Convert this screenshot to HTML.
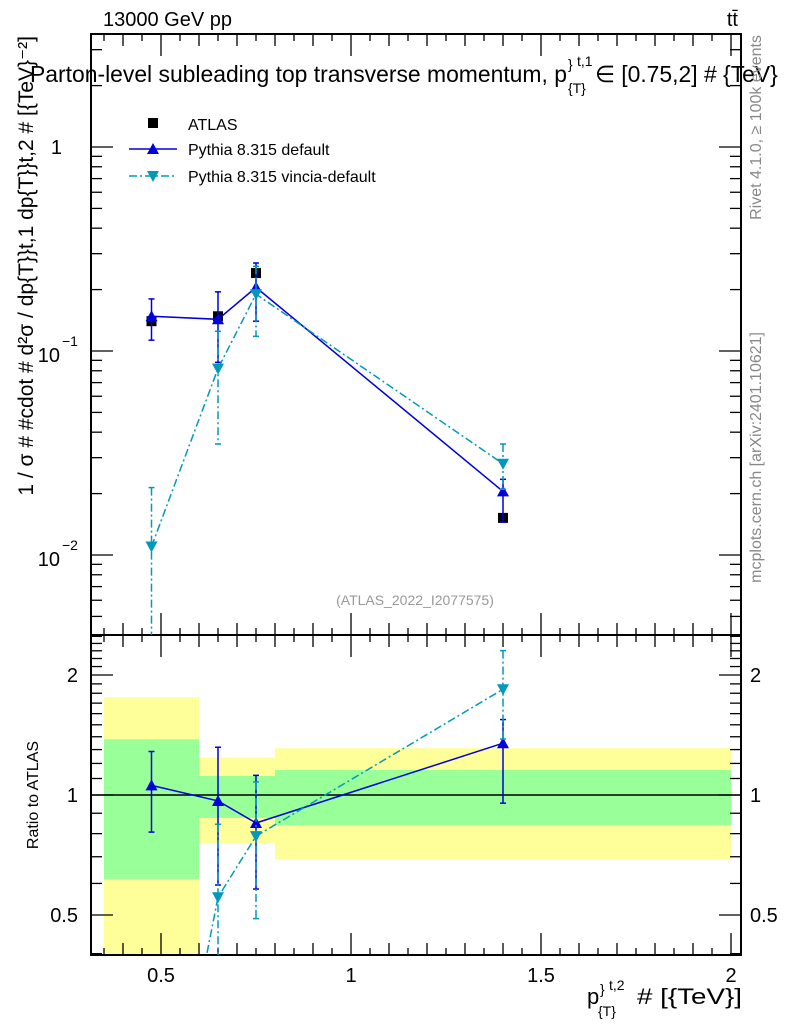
<!DOCTYPE html>
<html><head><meta charset="utf-8"><style>
html,body{margin:0;background:#fff;overflow:hidden;width:786px;height:1024px;}
svg{display:block;font-family:"Liberation Sans",sans-serif;}
</style></head><body>
<svg id="c" width="786" height="1024" viewBox="0 0 786 1024"></svg>
<script>
const binEdges=[0.35,0.6,0.7,0.8,2.0];
const greenLo=[0.616,0.876,0.876,0.841];
const greenHi=[1.38,1.116,1.116,1.155];
const yellowLo=[0.30,0.758,0.758,0.691];
const yellowHi=[1.76,1.24,1.24,1.31];
const xVals=[0.475,0.65,0.75,1.4];
const atlasVals=[0.140,0.148,0.241,0.0152];
const pyVals=[0.148,0.143,0.205,0.0205];
const pyUp=[0.18,0.195,0.27,0.0235];
const pyDn=[0.113,0.088,0.14,0.0145];
const viVals=[0.011,0.082,0.19,0.028];
const viUp=[0.0214,0.125,0.26,0.035];
const viDn=[0.001,0.035,0.118,0.021];
const xTickLabels=["0.5","1","1.5","2"];

const NS="http://www.w3.org/2000/svg";
const svg=document.getElementById('c');
const L=91,R=741,T=34,M=635,B=955;
const X=v=>-29+380*v;
const Y=v=>147-204*Math.log10(v);
const YR=v=>795-120*Math.log2(v);
function mk(tag,at,parent){const e=document.createElementNS(NS,tag);for(const k in at)e.setAttribute(k,at[k]);(parent||svg).appendChild(e);return e;}
function tx(x,y,s,at,parent){const e=mk('text',Object.assign({x:x,y:y,'font-size':20,fill:'#000'},at||{}),parent);e.textContent=s;return e;}

const defs=mk('defs',{});
const cm=mk('clipPath',{id:'cm'},defs);mk('rect',{x:L,y:T,width:R-L,height:M-T},cm);
const cr=mk('clipPath',{id:'cr'},defs);mk('rect',{x:L,y:M,width:R-L,height:B-M},cr);
const cp=mk('clipPath',{id:'cp'},defs);mk('rect',{x:0,y:0,width:786,height:1024},cp);

const gb=mk('g',{'clip-path':'url(#cr)'});


for(let i=0;i<binEdges.length-1;i++){
  const x0=X(binEdges[i]),x1=X(binEdges[i+1]);
  const y=mk('rect',{x:x0,y:YR(yellowHi[i]),width:x1-x0,height:YR(yellowLo[i])-YR(yellowHi[i]),fill:'#ffff99'},gb);
  
  
  const g=mk('rect',{x:x0,y:YR(greenHi[i]),width:x1-x0,height:YR(greenLo[i])-YR(greenHi[i]),fill:'#99ff99'},gb);
  
  
}
const ref=mk('line',{x1:L,x2:R,y1:YR(1),y2:YR(1),stroke:'#000','stroke-width':1.5});



function frame(y0,y1,name){
  const r=mk('rect',{x:L,y:y0,width:R-L,height:y1-y0,fill:'none',stroke:'#000','stroke-width':2});
  
  
  for(let k=7;k<=40;k++){const v=k*0.05;const px=X(v);if(px<L||px>R)continue;
    const len=(k%10===0)?22:(k%2===0?12:7);
    mk('line',{x1:px,x2:px,y1:y1,y2:y1-len,stroke:'#000','stroke-width':1.3});
    mk('line',{x1:px,x2:px,y1:y0,y2:y0+len,stroke:'#000','stroke-width':1.3});}
}
frame(T,M,'main-plot-frame');
frame(M,B,'ratio-plot-frame');
for(let e=-3;e<=0;e++)for(let m=1;m<=9;m++){const v=m*Math.pow(10,e);const py=Y(v);if(py<T||py>M)continue;
  const len=m===1?22:11;
  mk('line',{x1:L,x2:L+len,y1:py,y2:py,stroke:'#000','stroke-width':1.3});
  mk('line',{x1:R,x2:R-len,y1:py,y2:py,stroke:'#000','stroke-width':1.3});}
tx(62,154,'1',{'text-anchor':'end',});
tx(60,362,'10',{'text-anchor':'end',});
tx(62,346,'−1',{'font-size':14,'text-anchor':'start'});
tx(60,566,'10',{'text-anchor':'end',});
tx(62,550,'−2',{'font-size':14,'text-anchor':'start'});
for(let k=4;k<=25;k++){const v=k/10;const py=YR(v);if(py<M||py>B)continue;
  const len=(v===0.5||v===1||v===2)?22:11;
  mk('line',{x1:L,x2:L+len,y1:py,y2:py,stroke:'#000','stroke-width':1.3});
  mk('line',{x1:R,x2:R-len,y1:py,y2:py,stroke:'#000','stroke-width':1.3});}
[['0.5',0.5],['1',1],['2',2]].forEach(a=>{
  tx(78,YR(a[1])+7,a[0],{'text-anchor':'end',});
  tx(750,YR(a[1])+7,a[0],{'text-anchor':'start',});});
xTickLabels.forEach(s=>{tx(X(parseFloat(s)),982,s,{'text-anchor':'middle',});});

function series(vals,up,dn,color,dash,marker,yf,clip,name){
  const g=mk('g',{'clip-path':'url(#'+clip+')'});
  
  
  const pts=vals.map((v,i)=>X(xVals[i])+','+yf(v,i)).join(' ');
  if(color!=='#000')mk('polyline',{points:pts,fill:'none',stroke:color,'stroke-width':1.5,'stroke-dasharray':dash},g);
  vals.forEach((v,i)=>{
    const px=X(xVals[i]),py=yf(v,i);
    if(up){const a=yf(up[i],i),b=yf(dn[i],i);
      mk('line',{x1:px,x2:px,y1:a,y2:b,stroke:color,'stroke-width':1.5,'stroke-dasharray':dash},g);
      mk('line',{x1:px-3,x2:px+3,y1:a,y2:a,stroke:color,'stroke-width':1.5},g);
      mk('line',{x1:px-3,x2:px+3,y1:b,y2:b,stroke:color,'stroke-width':1.5},g);}
    let m;
    if(marker==='sq')m=mk('rect',{x:px-5,y:py-5,width:10,height:10,fill:color},g);
    else if(marker==='up')m=mk('polygon',{points:`${px-6},${py+5} ${px+6},${py+5} ${px},${py-6}`,fill:color},g);
    else m=mk('polygon',{points:`${px-6},${py-5} ${px+6},${py-5} ${px},${py+6}`,fill:color},g);
    
    
  });
}
const dd='8,3,2,3';
series(atlasVals,null,null,'#000','', 'sq',v=>Y(v),'cm','atlas-series');
series(pyVals,pyUp,pyDn,'#0000dd','', 'up',v=>Y(v),'cm','pythia-default-series');
series(viVals,viUp,viDn,'#0099bb',dd,'dn',v=>Y(v),'cm','pythia-vincia-series');
series(pyVals,pyUp,pyDn,'#0000dd','', 'up',(v,i)=>YR(v/atlasVals[i]),'cr','pythia-default-ratio');
series(viVals,viUp,viDn,'#0099bb',dd,'dn',(v,i)=>YR(v/atlasVals[i]),'cr','pythia-vincia-ratio');

const lg=mk('g',{});


mk('rect',{x:148,y:118,width:10,height:10,fill:'#000'},lg);
tx(188,130,'ATLAS',{'font-size':16},lg);
mk('line',{x1:129,x2:177,y1:149,y2:149,stroke:'#0000dd','stroke-width':1.5},lg);
mk('polygon',{points:'147,154 159,154 153,143',fill:'#0000dd'},lg);
tx(188,155,'Pythia 8.315 default',{'font-size':16},lg);
mk('line',{x1:129,x2:177,y1:176,y2:176,stroke:'#0099bb','stroke-width':1.5,'stroke-dasharray':dd},lg);
mk('polygon',{points:'147,171 159,171 153,182',fill:'#0099bb'},lg);
tx(188,182,'Pythia 8.315 vincia-default',{'font-size':16},lg);

const tg=mk('g',{'clip-path':'url(#cp)'});
tx(103,26,'13000 GeV pp',{},tg);
tx(738,26,'tt̄',{'text-anchor':'end',},tg);
const tt=tx(30,82,'Parton-level subleading top transverse momentum, p',{'font-size':22.9,},tg);
let tw=30+tt.getComputedTextLength();
tx(tw+1,93,'{T}',{'font-size':14},tg);
tx(tw+1,69,'}',{'font-size':14},tg);
tx(tw+10,66,'t,1',{'font-size':14},tg);
tx(tw+28,82,'∈ [0.75,2] # {TeV}',{'font-size':22.9},tg);
tx(415,605,'(ATLAS_2022_I2077575)',{'font-size':14,fill:'#999','text-anchor':'middle',},tg);
tx(0,0,'1 / σ # #cdot # d²σ / dp{T}}t,1 dp{T}}t,2 # [{TeV}⁻²]',{'font-size':21,'text-anchor':'end',transform:'translate(33,36) rotate(-90)',},tg);
tx(0,0,'Ratio to ATLAS',{'font-size':16,'text-anchor':'middle',transform:'translate(38,795) rotate(-90)',},tg);
const xt=mk('g',{},tg);


tx(587,1004,'p',{'font-size':22},xt);
tx(598,1016,'{T}',{'font-size':14},xt);
tx(600,994,'}',{'font-size':14},xt);
tx(609,990,'t,2',{'font-size':14},xt);
tx(742,1004,'# [{TeV}]',{'font-size':22,'text-anchor':'end',textLength:105,lengthAdjust:'spacingAndGlyphs'},xt);
tx(0,0,'Rivet 4.1.0, ≥ 100k events',{'font-size':16,fill:'#888','text-anchor':'end',transform:'translate(761,35) rotate(-90)',},tg);
tx(0,0,'mcplots.cern.ch [arXiv:2401.10621]',{'font-size':16,fill:'#888','text-anchor':'end',transform:'translate(761,332) rotate(-90)',},tg);
</script>
</body></html>
